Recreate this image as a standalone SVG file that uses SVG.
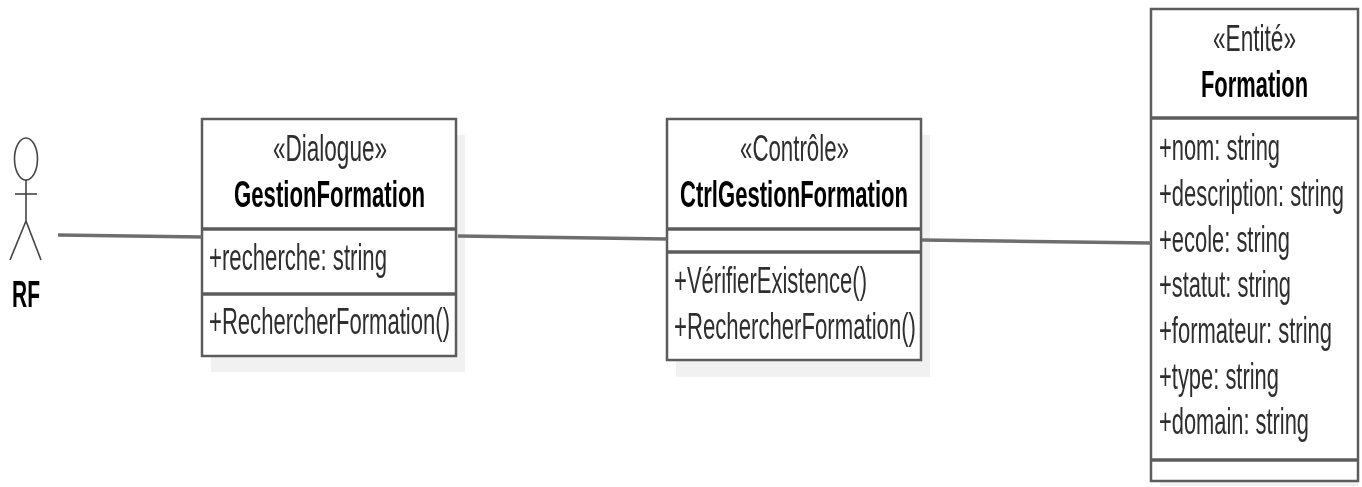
<svg xmlns="http://www.w3.org/2000/svg" width="1362" height="487" viewBox="0 0 1362 487">
<style>
text{font-family:"Liberation Sans",Arial,sans-serif;font-size:37px;fill:#2e2e2e}
.b{font-weight:bold;fill:#000;font-size:36px}
.box{fill:#fff;stroke:#5c5c5c;stroke-width:2.5}
.sh{fill:#f1f1f1;stroke:none}
.sep{stroke:#5c5c5c;stroke-width:3.5;fill:none}
.con{stroke:#6e6e6e;stroke-width:3.5;fill:none}
.act{stroke:#444;stroke-width:1.6;fill:#fff}
</style>
<defs><filter id="soft" x="-5%" y="-5%" width="110%" height="110%"><feGaussianBlur stdDeviation="0.6"/></filter></defs>
<rect width="1362" height="487" fill="#fff"/>
<g filter="url(#soft)">
<g id="actor-rf">
<ellipse class="act" cx="26" cy="159" rx="11.5" ry="21"/>
<line class="act" x1="26" y1="180" x2="26" y2="221"/>
<line class="act" x1="15" y1="194" x2="37" y2="194" stroke-width="3"/>
<line class="act" x1="26" y1="221" x2="10" y2="260"/>
<line class="act" x1="26" y1="221" x2="41" y2="260"/>
<text class="b" x="12" y="307" textLength="28" lengthAdjust="spacingAndGlyphs">RF</text>
</g>
<g id="gestion-formation">
<rect class="sh" x="211" y="135" width="254" height="237"/>
<rect class="box" x="202" y="119" width="254" height="237"/>
<line class="sep" x1="202" y1="229" x2="456" y2="229"/>
<line class="sep" x1="202" y1="294" x2="456" y2="294"/>
<text x="273" y="161" textLength="114" lengthAdjust="spacingAndGlyphs">«Dialogue»</text>
<text class="b" x="234" y="207" textLength="191" lengthAdjust="spacingAndGlyphs">GestionFormation</text>
<text x="209" y="270" textLength="178" lengthAdjust="spacingAndGlyphs">+recherche: string</text>
<text x="209" y="334" textLength="241" lengthAdjust="spacingAndGlyphs">+RechercherFormation()</text>
</g>
<g id="ctrl-gestion-formation">
<rect class="sh" x="676" y="135" width="254" height="242"/>
<rect class="box" x="667" y="119" width="254" height="241"/>
<line class="sep" x1="667" y1="229" x2="921" y2="229"/>
<line class="sep" x1="667" y1="252" x2="921" y2="252"/>
<text x="740" y="161" textLength="109" lengthAdjust="spacingAndGlyphs">«Contrôle»</text>
<text class="b" x="680" y="207" textLength="228" lengthAdjust="spacingAndGlyphs">CtrlGestionFormation</text>
<text x="674" y="293" textLength="193" lengthAdjust="spacingAndGlyphs">+VérifierExistence()</text>
<text x="674" y="339" textLength="242" lengthAdjust="spacingAndGlyphs">+RechercherFormation()</text>
</g>
<g id="formation">
<rect class="sh" x="1160" y="24" width="198" height="462"/>
<rect class="box" x="1151" y="9" width="207" height="472"/>
<line class="sep" x1="1151" y1="118" x2="1358" y2="118"/>
<line class="sep" x1="1151" y1="460" x2="1358" y2="460"/>
<text x="1213" y="51" textLength="83" lengthAdjust="spacingAndGlyphs">«Entité»</text>
<text class="b" x="1201" y="97" textLength="107" lengthAdjust="spacingAndGlyphs">Formation</text>
<text x="1159" y="160" textLength="121" lengthAdjust="spacingAndGlyphs">+nom: string</text>
<text x="1159" y="206" textLength="185" lengthAdjust="spacingAndGlyphs">+description: string</text>
<text x="1159" y="252" textLength="131" lengthAdjust="spacingAndGlyphs">+ecole: string</text>
<text x="1159" y="297" textLength="132" lengthAdjust="spacingAndGlyphs">+statut: string</text>
<text x="1159" y="343" textLength="173" lengthAdjust="spacingAndGlyphs">+formateur: string</text>
<text x="1159" y="389" textLength="120" lengthAdjust="spacingAndGlyphs">+type: string</text>
<text x="1159" y="434" textLength="150" lengthAdjust="spacingAndGlyphs">+domain: string</text>
</g>
<g id="connectors">
<line class="con" x1="58" y1="235" x2="202" y2="237"/>
<line class="con" x1="458" y1="236" x2="667" y2="239"/>
<line class="con" x1="922" y1="240" x2="1151" y2="243"/>
</g>
</g>
</svg>
